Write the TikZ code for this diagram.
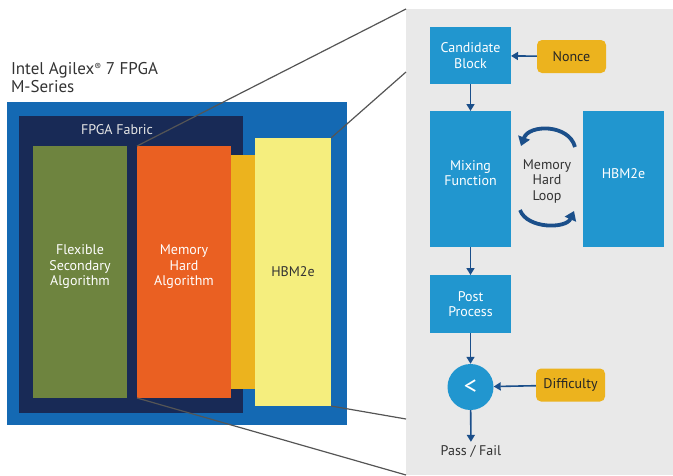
\documentclass[tikz,border=0pt]{standalone}
\usepackage{fontspec}
\setmainfont{PT Sans}
\usepackage{tikz}
\usetikzlibrary{positioning,arrows.meta,calc}

\definecolor{agxblue}{HTML}{1469B3}
\definecolor{fabnavy}{HTML}{182A56}
\definecolor{algogreen}{HTML}{6E843F}
\definecolor{algoorange}{HTML}{EA6022}
\definecolor{busgold}{HTML}{ECB31E}
\definecolor{hbmyellow}{HTML}{F5EE7E}
\definecolor{panelgray}{HTML}{E9E9E9}
\definecolor{stepblue}{HTML}{2196CF}
\definecolor{flowblue}{HTML}{1B4F8A}
\definecolor{zoomgray}{HTML}{555555}

\begin{document}
\begin{tikzpicture}[x=1pt, y=-1pt,
  font=\fontsize{14}{15.5}\selectfont,
  blk/.style={anchor=north west, inner sep=0pt, outer sep=0pt},
  stepbox/.style={blk, fill=stepblue, text=white, align=center, minimum width=81pt},
  tag/.style={fill=busgold, rounded corners=5pt, inner sep=0pt, minimum width=69pt, minimum height=33pt, text=black!85},
  lbl/.style={align=center, inner sep=0pt},
  flow/.style={-{Triangle[width=8pt,length=7pt]}, flowblue, line width=1.6pt},
  looparrow/.style={-{Triangle[width=12pt,length=9pt]}, flowblue, line width=3.8pt},
  zoomline/.style={zoomgray, line width=1.2pt}
]
\useasboundingbox (0,0) rectangle (673,475);

% Chip package
\node[blk, align=left, anchor=west, text=black!80, font=\fontsize{17}{18}\selectfont] (title) at (11,78)
  {Intel Agilex{\fontsize{10}{10}\selectfont\raisebox{4pt}{®}} 7 FPGA\\M-Series};
\node[blk, fill=agxblue, minimum width=340pt, minimum height=323pt] (chip) at (7,102) {};
\node[blk, fill=fabnavy, minimum width=224pt, minimum height=297pt] (fabric) at (19,116) {};
\node[lbl, text=white!90!black] (fablbl) at (117,130) {FPGA Fabric};

% Blocks inside the package
\node[blk, fill=algogreen, minimum width=94pt, minimum height=252pt] (green) at (33,146) {};
\node[blk, fill=algoorange, minimum width=94pt, minimum height=252pt] (orange) at (137,146) {};
\node[blk, fill=busgold, minimum width=24pt, minimum height=234pt] (bus) at (231,155) {};
\node[blk, fill=hbmyellow, minimum width=76pt, minimum height=268pt, text=black!80] (yellow) at (255,138) {HBM2e};
\node[lbl, text=white] (greentxt) at (80,267) {Flexible\\Secondary\\Algorithm};
\node[lbl, text=white] (orangetxt) at (184,267) {Memory\\Hard\\Algorithm};

% Zoom lines
\coordinate (zt) at (406,72);
\coordinate (zb) at (406,419);
\node[blk, fill=panelgray, minimum width=267pt, minimum height=466pt] (panel) at (406,9) {};
\draw[zoomline] (orange.north west) -- (panel.north west);
\draw[zoomline] (yellow.north east) -- (zt);
\draw[zoomline] (yellow.south east) -- (zb);
\draw[zoomline] (orange.south west) -- (panel.south west);

% Flow
\node[stepbox, minimum height=57pt] (cand) at (430,27) {Candidate\\Block};
\node[tag] (nonce) at (571.5,56.5) {Nonce};
\node[stepbox, minimum height=136pt] (mix) at (430,111) {};
\node[lbl, text=white] (mixtxt) at (470.5,173) {Mixing\\Function};
\node[stepbox, minimum height=136pt] (hbm) at (583,111) {};
\node[lbl, text=white] (hbmtxt) at (623.5,174) {HBM2e};
\node[lbl, text=black!80] (looptxt) at (547,181) {Memory\\Hard\\Loop};
\node[stepbox, minimum height=58pt] (post) at (430,275) {Post\\Process};
\node[circle, fill=stepblue, minimum size=46pt, inner sep=0pt, text=white, font=\fontsize{26}{26}\selectfont] (cmp) at (470.5,387) {<};
\node[tag] (diff) at (570.5,385) {Difficulty};
\node[lbl, text=black!80, inner sep=3pt] (pf) at (471,451) {Pass / Fail};

\draw[flow] (nonce) -- (cand);
\draw[flow] (cand) -- (mix);
\draw[flow] (mix) -- (post);
\draw[flow] (post) -- (cmp);
\draw[flow] (diff) -- (cmp);
\draw[flow] (cmp) -- (pf);

% Memory hard loop
\coordinate (lt1) at (575,147);
\coordinate (lt2) at (521,146);
\coordinate (lb1) at (520,210);
\coordinate (lb2) at (574,211);
\draw[looparrow] (lt1) .. controls (569,124) and (529,124) .. (lt2);
\draw[looparrow] (lb1) .. controls (527,229) and (566,229) .. (lb2);

\end{tikzpicture}
\end{document}
